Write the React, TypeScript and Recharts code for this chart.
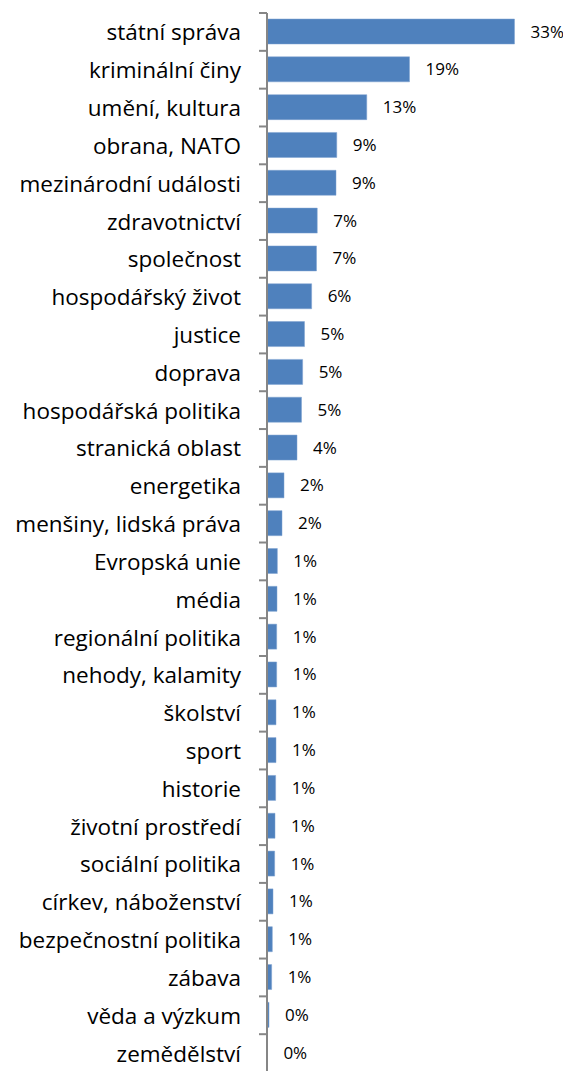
import { BarChart, Bar, XAxis, YAxis, LabelList } from 'recharts'

// topics, share of coverage in %
const categories = [
  'státní správa',
  'kriminální činy',
  'umění, kultura',
  'obrana, NATO',
  'mezinárodní události',
  'zdravotnictví',
  'společnost',
  'hospodářský život',
  'justice',
  'doprava',
  'hospodářská politika',
  'stranická oblast',
  'energetika',
  'menšiny, lidská práva',
  'Evropská unie',
  'média',
  'regionální politika',
  'nehody, kalamity',
  'školství',
  'sport',
  'historie',
  'životní prostředí',
  'sociální politika',
  'církev, náboženství',
  'bezpečnostní politika',
  'zábava',
  'věda a výzkum',
  'zemědělství',
]

const shares = [
  33, 19, 13.3, 9.3, 9.2, 6.7, 6.6, 5.95, 5.0, 4.75, 4.6, 4.0, 2.27, 2.0,
  1.38, 1.33, 1.29, 1.29, 1.2, 1.2, 1.15, 1.07, 1.02, 0.8, 0.71, 0.62, 0.27, 0.05,
]

const data = categories.map((name, i) => ({ name, value: shares[i] }))

const FONT = '"Open Sans", Lato, sans-serif'
const BAND = 1058.4 / categories.length

// tick mark sits on the category boundary (Excel style), label in the middle
const CategoryTick = (props: any) => {
  const x = Number(props.x)
  const y = Number(props.y)
  const top = y - BAND / 2
  return (
    <g>
      <path d={`M${x - 8},${top}H${x}`} stroke="#868686" strokeWidth={2} fill="none" />
      <text x={x - 26} y={y} textAnchor="end" dominantBaseline="central" fontSize={22.5} fontFamily={FONT} fill="#000">
        {props.payload.value}
      </text>
    </g>
  )
}

export default function App() {
  return (
    <div style={{ width: 563, height: 1064, fontFamily: FONT }}>
      <BarChart
        width={563}
        height={1064}
        data={data}
        layout="vertical"
        margin={{ top: 5, right: 4, left: 0, bottom: 0 }}
      >
        <XAxis type="number" domain={[0, 40]} hide />
        <YAxis
          type="category"
          dataKey="name"
          width={259}
          interval={0}
          axisLine={{ stroke: '#868686', strokeWidth: 2 }}
          tickLine={false}
          tickSize={0}
          tickMargin={0}
          tick={CategoryTick}
        />
        <Bar dataKey="value" barSize={25} fill="#4f81bd" stroke="#7fa3d1" strokeWidth={0.5} isAnimationActive={false}>
          <LabelList
            dataKey="value"
            position="right"
            offset={16}
            formatter={(v: any) => `${Math.round(Number(v))}%`}
            style={{ fontSize: 17, fontFamily: FONT, fill: '#000' }}
          />
        </Bar>
      </BarChart>
    </div>
  )
}
